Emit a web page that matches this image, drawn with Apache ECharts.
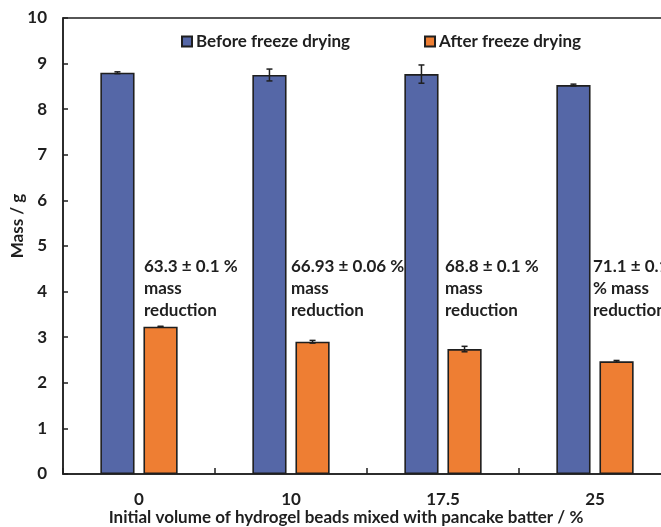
<!DOCTYPE html>
<html>
<head>
<meta charset="utf-8">
<script src="https://cdn.jsdelivr.net/npm/echarts@6/dist/echarts.min.js"></script>
<style>
  html, body { margin: 0; padding: 0; background: #fff; }
  #chart { width: 661px; height: 527px; }
</style>
</head>
<body>
<div id="chart"></div>
<script>
// Bead volume fractions (x categories)
const categories = ['0', '10', '17.5', '25'];
// Mean mass (g) and standard deviation before and after freeze drying
const beforeMass = [8.80, 8.75, 8.77, 8.53];
const beforeErr  = [0.02, 0.13, 0.20, 0.02];
const afterMass  = [3.23, 2.90, 2.74, 2.47];
const afterErr   = [0.01, 0.03, 0.06, 0.02];
// Mass reduction notes above each pair
const reductionNotes = [
  '63.3 ± 0.1 %\nmass\nreduction',
  '66.93 ± 0.06 %\nmass\nreduction',
  '68.8 ± 0.1 %\nmass\nreduction',
  '71.1 ± 0.1\n% mass\nreduction'
];
const yTicks = { min: 0, max: 10, interval: 1 };
const seriesNames = ['Before freeze drying', 'After freeze drying'];

const FONT = 'Lato, "Open Sans", sans-serif';
const FS = 17;
const INK = '#1f1f1f';
const BLUE = '#5567a7';
const ORANGE = '#ee7e33';

const chart = echarts.init(document.getElementById('chart'), null, { renderer: 'canvas' });

// Error bar renderer: vertical whisker with caps, centred on the bar it belongs to
function errorBarSeries(means, errs, seriesIndex) {
  const data = means.map((m, i) => [i, m - errs[i], m + errs[i]]);
  return {
    type: 'custom',
    z: 10,
    silent: true,
    data: data,
    renderItem: function (params, api) {
      const ci = api.value(0);
      const lo = api.coord([ci, api.value(1)]);
      const hi = api.coord([ci, api.value(2)]);
      const band = api.size([1, 0])[0];
      const barW = band * 0.225;
      const gap = barW * 0.26;
      const shift = (barW + gap) / 2 * (seriesIndex === 0 ? -1 : 1);
      const x = lo[0] + shift;
      const cap = 3;
      const st = { stroke: INK, lineWidth: 1.5, fill: null };
      return {
        type: 'group',
        children: [
          { type: 'line', shape: { x1: x, y1: lo[1], x2: x, y2: hi[1] }, style: st },
          { type: 'line', shape: { x1: x - cap, y1: lo[1], x2: x + cap, y2: lo[1] }, style: st },
          { type: 'line', shape: { x1: x - cap, y1: hi[1], x2: x + cap, y2: hi[1] }, style: st }
        ]
      };
    }
  };
}

const option = {
  backgroundColor: '#ffffff',
  animation: false,
  textStyle: { fontFamily: FONT },
  grid: {
    left: 63, top: 18, width: 608, height: 456,
    outerBoundsMode: 'none',
    containLabel: false,
    show: true, borderColor: INK, borderWidth: 1.5, backgroundColor: 'transparent'
  },
  legend: {
    left: 181, top: 33, padding: 0,
    icon: 'rect',
    itemWidth: 10, itemHeight: 10, itemGap: 74,
    textStyle: { fontFamily: FONT, fontWeight: 'bold', fontSize: FS, color: INK, padding: [0, 0, 0, -1] },
    data: seriesNames
  },
  title: {
    text: 'Initial volume of hydrogel beads mixed with pancake batter / %',
    left: 346, top: 509, textAlign: 'center', padding: 0,
    textStyle: { fontFamily: FONT, fontWeight: 'bold', fontSize: FS, color: INK }
  },
  xAxis: {
    type: 'category',
    data: categories,
    z: 5,
    axisLine: { lineStyle: { color: INK, width: 1.5 } },
    axisTick: { show: true, inside: true, length: 6, alignWithLabel: false, lineStyle: { color: INK, width: 1.5 } },
    axisLabel: { margin: 17, fontFamily: FONT, fontWeight: 'bold', fontSize: FS, color: INK }
  },
  yAxis: {
    type: 'value',
    min: yTicks.min, max: yTicks.max, interval: yTicks.interval,
    splitLine: { show: false },
    axisLine: { show: true, lineStyle: { color: INK, width: 1.5 } },
    axisTick: { show: true, inside: true, length: 5, lineStyle: { color: INK, width: 1.5 } },
    axisLabel: { margin: 16, fontFamily: FONT, fontWeight: 'bold', fontSize: FS, color: INK }
  },
  series: [
    {
      name: seriesNames[0], type: 'bar', data: beforeMass,
      barWidth: '22.5%', barGap: '26%',
      itemStyle: { color: BLUE, borderColor: INK, borderWidth: 1.6 }
    },
    {
      name: seriesNames[1], type: 'bar', data: afterMass,
      barWidth: '22.5%', barGap: '26%',
      itemStyle: { color: ORANGE, borderColor: INK, borderWidth: 1.6 }
    },
    errorBarSeries(beforeMass, beforeErr, 0),
    errorBarSeries(afterMass, afterErr, 1)
  ]
};

chart.setOption(option);

// Reduction notes and the vertical axis title, placed through the axis scales
const noteTop = 4.8;
const noteShift = [5, 0, 2, -2];
const graphics = reductionNotes.map((txt, i) => {
  const p = chart.convertToPixel({ gridIndex: 0 }, [i, noteTop]);
  return {
    type: 'text',
    x: p[0] + noteShift[i],
    y: p[1],
    style: {
      text: txt, fill: INK,
      font: 'bold ' + FS + 'px ' + FONT,
      lineHeight: 22,
      textAlign: 'left', textVerticalAlign: 'top'
    }
  };
});
graphics.push({
  type: 'text',
  x: 18, y: 226, rotation: Math.PI / 2,
  style: {
    text: 'Mass / g', fill: INK, font: 'bold ' + FS + 'px ' + FONT,
    textAlign: 'center', textVerticalAlign: 'middle'
  }
});
chart.setOption({ graphic: graphics });
</script>
</body>
</html>
